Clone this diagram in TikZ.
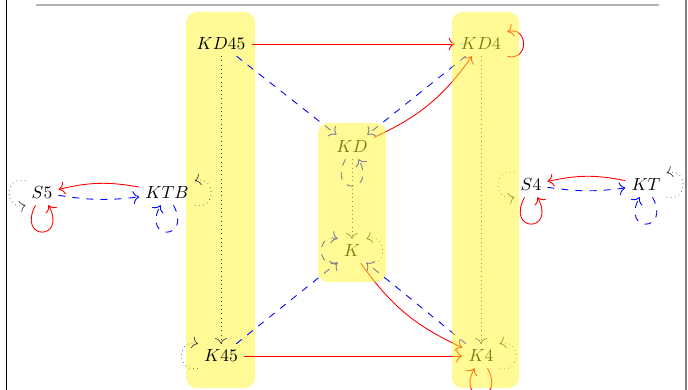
\documentclass[tikz,border=0pt]{standalone}
\usepackage{tikz}
\usetikzlibrary{arrows.meta}
\definecolor{BoxYellow}{HTML}{FFF52D}

\begin{document}
\begin{tikzpicture}[
  >={To[scale=1.3]},
  trans/.style={->, red, line width=0.5pt},
  sym/.style={->, blue, line width=0.5pt, dash pattern=on 4pt off 4pt},
  refl/.style={->, black!75, dotted},
  every loop/.style={min distance=5mm},
  side/.style={min distance=4.5mm},
  logicbox/.style={rounded corners=6pt}
]
\useasboundingbox (0,0) rectangle (13.76,7.8);
\draw[black] (0.12,0) -- (0.12,7.8);
\draw[gray, line width=1pt] (13.72,0) -- (13.72,7.8);
\draw[gray!60, line width=0.8pt] (0.72,7.7) -- (13.18,7.7);
\fill[BoxYellow!50, logicbox] (3.72,0.04) rectangle (5.10,7.56);
% logics
\node (kd45) at (4.42,6.92) {$KD45$};
\node (kd4) at (9.62,6.92) {$KD4$};
\node (kd) at (7.04,4.86) {$KD$};
\node (k) at (7.04,2.78) {$K$};
\node (k45) at (4.42,0.68) {$K45$};
\node (k4) at (9.62,0.68) {$K4$};
\node (s5) at (0.84,3.94) {$S5$};
\node (ktb) at (3.34,3.94) {$KTB$};
\node (s4) at (10.62,4.10) {$S4$};
\node (kt) at (12.92,4.10) {$KT$};
% transitive
\draw[trans] (kd45) -- (kd4);
\draw[trans] (k45) -- (k4);
\draw[trans] (kd) to[bend right=15] (kd4);
\draw[trans] (k) to[bend right=15] (k4);
\draw[trans] (ktb) to[bend right=12] (s5);
\draw[trans] (kt) to[bend right=12] (s4);
% symmetric
\draw[sym] (kd45) -- (kd);
\draw[sym] (kd4) -- (kd);
\draw[sym] (k45) -- (k);
\draw[sym] (k4) -- (k);
\draw[sym] (s5) to[bend right=8] (ktb);
\draw[sym] (s4) to[bend right=8] (kt);
% reflexive
\draw[refl] (kd45) -- (k45);
\draw[refl] (kd4) -- (k4);
\draw[refl] (kd) -- (k);
% loops
\draw[refl] (s5.north west) to[side, out=165, in=195] (s5.south west);
\path (s5) edge[trans, out=-118, in=-62, loop] ();
\draw[refl] (ktb.south east) to[side, out=-15, in=15] (ktb.north east);
\path (ktb) edge[sym, out=-62, in=-118, loop] ();
\draw[refl] (s4.north west) to[side, out=165, in=195] (s4.south west);
\path (s4) edge[trans, out=-118, in=-62, loop] ();
\draw[refl] (kt.south east) to[side, out=-15, in=15] (kt.north east);
\path (kt) edge[sym, out=-62, in=-118, loop] ();
\path (kd) edge[sym, out=-118, in=-62, loop] ();
\draw[sym] (k.south west) to[side, out=195, in=165] (k.north west);
\draw[refl] (k.south east) to[side, out=-15, in=15] (k.north east);
\draw[trans] (kd4.south east) to[side, out=-15, in=15] (kd4.north east);
\draw[refl] (k4.south east) to[side, out=-15, in=15] (k4.north east);
\path (k4) edge[trans, out=-62, in=-118, loop] ();
\draw[refl] (k45.south west) to[side, out=195, in=165] (k45.north west);
\fill[BoxYellow, opacity=0.5, logicbox] (6.36,2.16) rectangle (7.72,5.34);
\fill[BoxYellow, opacity=0.5, logicbox] (9.04,0.04) rectangle (10.38,7.56);
\end{tikzpicture}
\end{document}
